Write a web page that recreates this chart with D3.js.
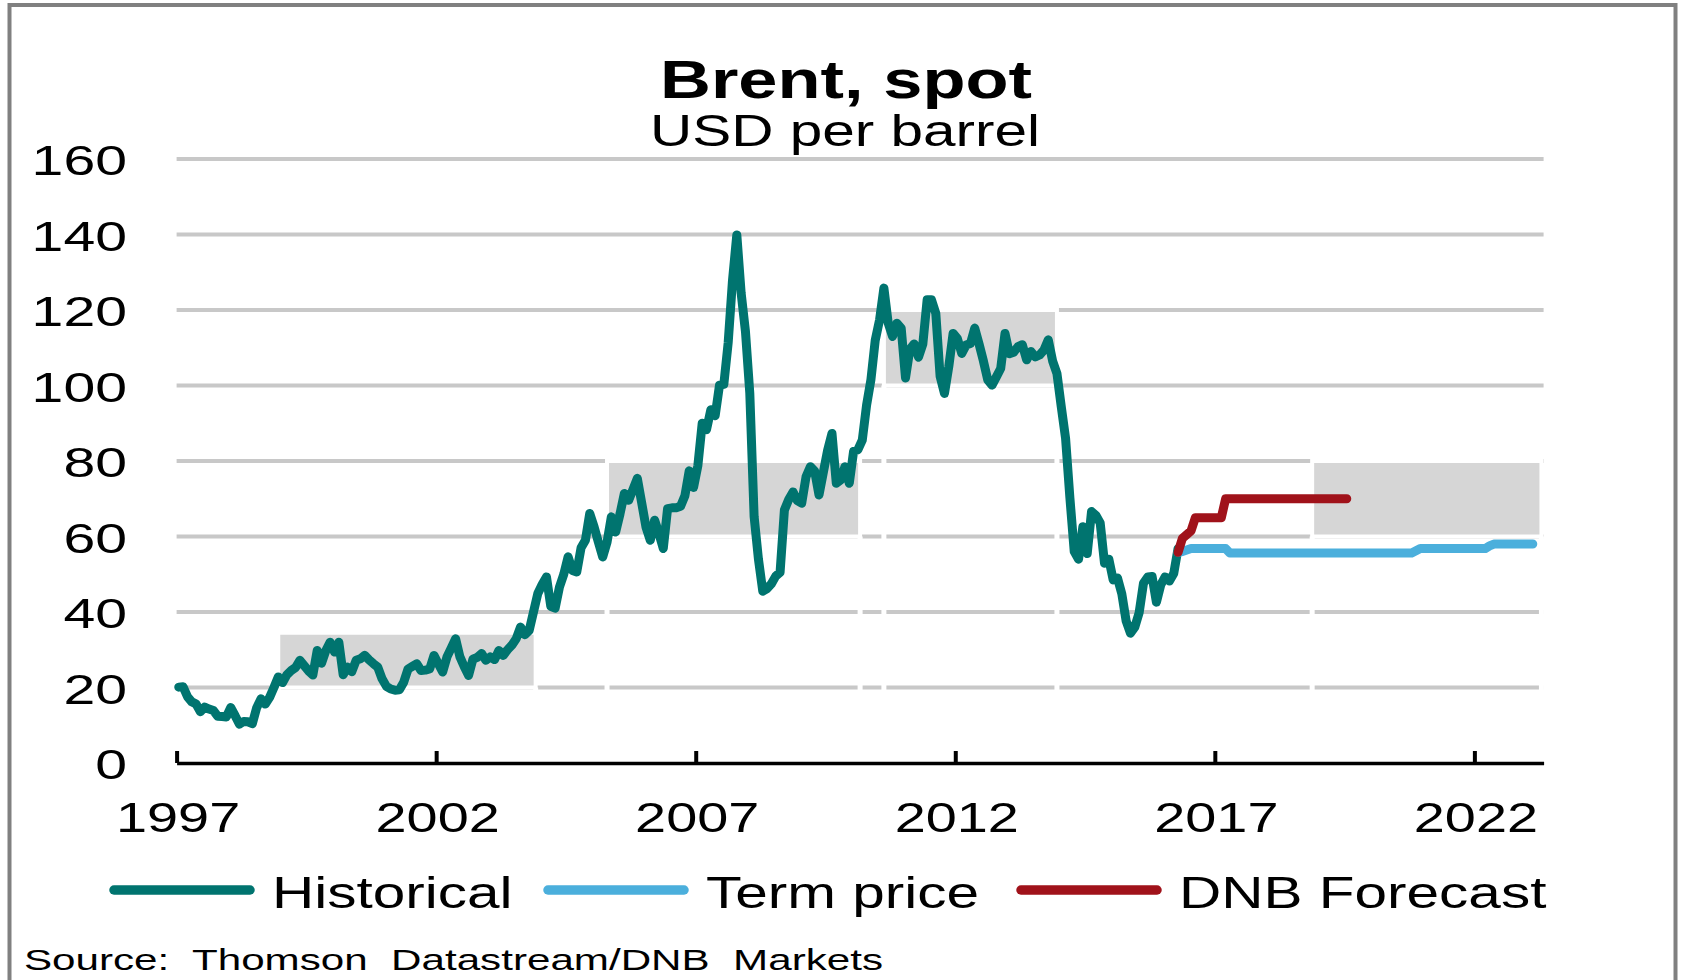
<!DOCTYPE html>
<html>
<head>
<meta charset="utf-8">
<script src="https://cdn.jsdelivr.net/npm/d3@7"></script>
<style>
body { margin: 0; background: #fff; }
text { font-family: "Liberation Sans", Arial, sans-serif; fill: #000; }
</style>
</head>
<body>
<div id="chart"></div>
<script>
var w = 1683;
var h = 980;
var stretch = 1.33; // the original picture has wide letters

// month index 0 = Sep 1997, one value per month
var nMonths = 316;
var xTickIndex = [0, 60, 120, 180, 240, 300];
var xTickLabels = ["1997", "2002", "2007", "2012", "2017", "2022"];
var yTicks = [0, 20, 40, 60, 80, 100, 120, 140, 160];

var seriesNames = ["Historical", "Term price", "DNB Forecast"];
var seriesColors = ["#00746f", "#4bafdc", "#a0121a"];

var historical = [
  20.1, 20.2, 17.6, 16.2, 15.6, 13.6, 14.8, 14.3, 13.9, 12.4, 12.3, 12.2,
  14.7, 12.6, 10.3, 11.0, 10.9, 10.4, 14.6, 17.0, 15.6, 17.4, 20.0, 22.8,
  21.3, 23.4, 24.5, 25.3, 27.2, 25.8, 24.4, 23.3, 29.8, 26.4, 29.8, 32.0,
  29.4, 32.0, 23.4, 25.4, 24.2, 27.2, 27.6, 28.5, 27.3, 26.3, 25.4, 22.3,
  20.3, 19.6, 19.3, 19.4, 21.4, 24.9, 25.6, 26.3, 24.5, 24.6, 24.9, 28.5,
  26.3, 24.1, 28.1, 30.5, 32.9, 28.1, 25.5, 23.2, 27.5, 28.0, 29.0, 27.2,
  28.1, 27.4, 29.8, 28.5, 30.0, 31.2, 32.9, 36.0, 34.0, 35.1, 40.0, 44.9,
  47.3, 49.3, 41.5, 41.0, 46.6, 50.0, 54.6, 51.0, 50.6, 57.0, 59.0, 66.1,
  62.6, 58.5, 54.6, 58.5, 65.2, 61.2, 66.0, 71.4, 69.6, 72.5, 75.4, 69.0,
  62.5, 59.0, 64.3, 60.8, 56.8, 67.4, 67.6, 67.6, 68.0, 70.8, 77.4, 73.0,
  78.8, 90.0, 88.3, 93.6, 92.0, 100.1, 100.3, 111.3, 127.8, 139.9, 124.5, 114.3,
  98.0, 65.3, 54.0, 45.5, 46.2, 47.5, 49.5, 50.5, 67.0, 69.8, 71.8, 69.5,
  68.8, 75.8, 78.5, 77.3, 71.0, 77.0, 82.9, 87.3, 74.1, 75.0, 78.5, 74.1,
  82.6, 83.0, 85.5, 94.8, 101.5, 112.0, 117.4, 125.8, 116.5, 113.0, 116.5, 115.2,
  102.0, 109.6, 111.0, 107.5, 111.0, 122.7, 122.7, 119.1, 102.4, 97.9, 105.0, 113.8,
  112.4, 108.5, 110.7, 111.1, 115.2, 111.0, 106.5, 101.5, 100.1, 102.3, 104.5, 113.8,
  108.4, 108.8, 110.3, 110.8, 106.8, 109.0, 107.6, 108.1, 109.4, 112.1, 106.5, 103.2,
  94.4, 86.0, 70.2, 56.0, 54.0, 62.6, 55.5, 66.6, 65.6, 63.6, 52.9, 54.0,
  48.5, 49.0, 44.8, 37.6, 34.4, 36.0, 39.8, 47.6, 49.3, 49.4, 42.6, 47.2,
  49.3, 48.2, 50.2, 56.8
];

var termStart = 231;
var termPrice = [
  55.8, 56.0, 56.4, 56.8,
  56.8, 56.8, 56.8, 56.8, 56.8, 56.8, 56.8, 56.8,
  55.6,
  55.6, 55.6, 55.6, 55.6, 55.6, 55.6, 55.6, 55.6, 55.6, 55.6, 55.6, 55.6, 55.6, 55.6,
  55.6, 55.6, 55.6, 55.6, 55.6, 55.6, 55.6, 55.6, 55.6, 55.6, 55.6, 55.6, 55.6, 55.6,
  55.6, 55.6, 55.6, 55.6, 55.6, 55.6, 55.6, 55.6, 55.6, 55.6, 55.6, 55.6, 55.6, 55.6,
  56.2, 56.8,
  56.8, 56.8, 56.8, 56.8, 56.8, 56.8, 56.8, 56.8, 56.8, 56.8, 56.8, 56.8, 56.8, 56.8, 56.8,
  57.5, 58.0,
  58.0, 58.0, 58.0, 58.0, 58.0, 58.0, 58.0, 58.0, 58.0
];

var forecastStart = 231;
var forecast = [
  55.8, 59.5, 60.5, 61.5, 65.0, 65.0, 65.0, 65.0, 65.0, 65.0, 65.0,
  70.0, 70.0, 70.0, 70.0, 70.0, 70.0, 70.0, 70.0, 70.0, 70.0, 70.0, 70.0, 70.0, 70.0,
  70.0, 70.0, 70.0, 70.0, 70.0, 70.0, 70.0, 70.0, 70.0, 70.0, 70.0, 70.0, 70.0, 70.0, 70.0
];

// shaded price ranges (month index from/to, USD low/high)
var bandFrom = [23.5, 99.5, 163.5, 262.5];
var bandTo = [83, 158, 203.5, 315.5];
var bandLow = [20, 60, 100, 60];
var bandHigh = [34.5, 80, 120, 80];

function toPoints(values, start) {
    return values.map(function(v, i) { return { m: start + i, v: v }; });
}

function brentChart() {
    var svg = d3.select("#chart")
        .append("svg")
        .attr("width", w)
        .attr("height", h);

    svg.append("rect")
        .attr("width", w)
        .attr("height", h)
        .attr("fill", "#fff");

    svg.append("rect")
        .attr("x", 9.5)
        .attr("y", 5)
        .attr("width", 1666)
        .attr("height", 990)
        .attr("fill", "none")
        .attr("stroke", "#808080")
        .attr("stroke-width", 4);

    var x = d3.scaleLinear().domain([0, nMonths]).range([176.6, 1543.6]);
    var y = d3.scaleLinear().domain([0, 160]).range([763, 159]);
    function px(d) { return x(d.m + 0.5); }

    // title
    svg.append("text")
        .attr("text-anchor", "middle")
        .attr("transform", "translate(846,98) scale(" + stretch + ",1)")
        .style("font-size", "53px")
        .style("font-weight", "bold")
        .text("Brent, spot");
    svg.append("text")
        .attr("text-anchor", "middle")
        .attr("transform", "translate(845,146) scale(" + stretch + ",1)")
        .style("font-size", "44px")
        .text("USD per barrel");

    // gridlines
    svg.append("g")
        .selectAll("line")
        .data(yTicks.filter(function(t) { return t > 0; }))
        .enter()
        .append("line")
        .attr("x1", x(0))
        .attr("x2", x(nMonths))
        .attr("y1", function(d) { return y(d); })
        .attr("y2", function(d) { return y(d); })
        .attr("stroke", "#c8c8c8")
        .attr("stroke-width", 4);

    // shaded ranges, white edges run down to the axis
    var bands = bandFrom.map(function(f, i) {
        return { from: f, to: bandTo[i], low: bandLow[i], high: bandHigh[i] };
    });
    var bg = svg.append("g");
    bands.forEach(function(b) {
        [b.from, b.to].forEach(function(edge) {
            bg.append("line")
                .attr("x1", x(edge))
                .attr("x2", x(edge))
                .attr("y1", y(0))
                .attr("y2", y(b.low))
                .attr("stroke", "#fff")
                .attr("stroke-width", 5);
        });
    });
    bg.selectAll("rect")
        .data(bands)
        .enter()
        .append("rect")
        .attr("x", function(d) { return x(d.from); })
        .attr("width", function(d) { return x(d.to) - x(d.from); })
        .attr("y", function(d) { return y(d.high); })
        .attr("height", function(d) { return y(d.low) - y(d.high); })
        .attr("fill", "#d6d6d6")
        .attr("stroke", "#fff")
        .attr("stroke-width", 4);

    // y labels
    var yAxis = d3.axisLeft(y).tickValues(yTicks).tickSize(0);
    var gy = svg.append("g")
        .attr("transform", "translate(" + x(0) + ",0)")
        .call(yAxis);
    gy.select(".domain").remove();
    gy.selectAll("text")
        .attr("x", null)
        .attr("dy", null)
        .attr("text-anchor", "end")
        .attr("transform", "translate(-49.6,15.5) scale(" + stretch + ",1)")
        .style("font-size", "43px")
        .attr("font-family", null);

    // x axis
    var xAxis = d3.axisBottom(x)
        .tickValues(xTickIndex)
        .tickSize(-12)
        .tickSizeOuter(0)
        .tickFormat(function(d, i) { return xTickLabels[i]; });
    var gx = svg.append("g")
        .attr("transform", "translate(0," + y(0) + ")")
        .call(xAxis);
    gx.select(".domain")
        .attr("stroke", "#000")
        .attr("stroke-width", 3.5);
    gx.selectAll(".tick line")
        .attr("stroke", "#000")
        .attr("stroke-width", 4);
    gx.selectAll("text")
        .attr("y", null)
        .attr("dy", null)
        .attr("text-anchor", "middle")
        .attr("transform", "translate(1,69) scale(" + stretch + ",1)")
        .style("font-size", "42px")
        .attr("font-family", null);

    // lines
    var line = d3.line()
        .x(px)
        .y(function(d) { return y(d.v); });
    var series = [
        toPoints(historical, 0),
        toPoints(termPrice, termStart),
        toPoints(forecast, forecastStart)
    ];
    svg.append("g")
        .selectAll("path")
        .data(series)
        .enter()
        .append("path")
        .attr("d", line)
        .attr("fill", "none")
        .attr("stroke", function(d, i) { return seriesColors[i]; })
        .attr("stroke-width", 9)
        .attr("stroke-linejoin", "round")
        .attr("stroke-linecap", "round");

    // legend
    var legendX = [114, 548, 1021];
    var legend = svg.append("g")
        .selectAll("g")
        .data(seriesNames)
        .enter()
        .append("g")
        .attr("transform", function(d, i) { return "translate(" + legendX[i] + ",890)"; });
    legend.append("line")
        .attr("x1", 0)
        .attr("x2", 136)
        .attr("stroke", function(d, i) { return seriesColors[i]; })
        .attr("stroke-width", 9.5)
        .attr("stroke-linecap", "round");
    legend.append("text")
        .attr("transform", "translate(158,18) scale(" + stretch + ",1)")
        .style("font-size", "44px")
        .text(function(d) { return d; });

    // source
    svg.append("text")
        .attr("x", 24)
        .attr("y", 970)
        .attr("textLength", 859)
        .attr("lengthAdjust", "spacingAndGlyphs")
        .style("font-size", "30px")
        .style("white-space", "pre")
        .text("Source:  Thomson  Datastream/DNB  Markets");
}

window.onload = brentChart();
</script>
</body>
</html>
